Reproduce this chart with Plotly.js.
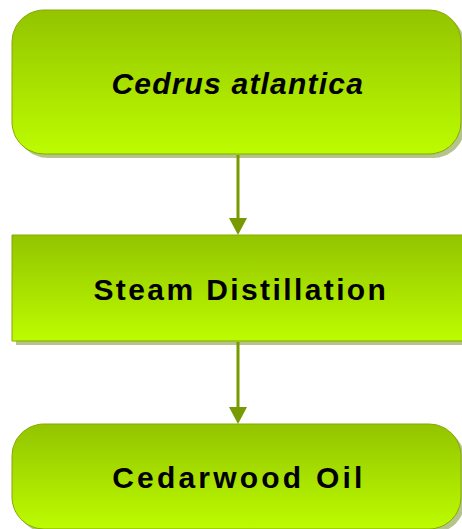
<!DOCTYPE html>
<html>
<head>
<meta charset="utf-8">
<script src="https://cdn.plot.ly/plotly-3.0.1.min.js"></script>
<style>
html,body{margin:0;padding:0;background:#fff;}
#chart{width:462px;height:529px;}
</style>
</head>
<body>
<div id="chart"></div>
<script>
// ---- flowchart content ----
const steps = ["Cedrus atlantica", "Steam Distillation", "Cedarwood Oil"];
const stepShapes = ["rounded", "rect", "rounded"];
const stepItalic = [true, false, false];
// links between steps (from index -> to index)
const linkFrom = [0, 1];
const linkTo = [1, 2];

// ---- layout constants (pixel space) ----
const W = 462, H = 529;
const boxLeft = 12;
const boxRightRounded = 461;
const boxRightRect = 475;
const boxTops = [10, 235, 424];
const boxBottoms = [154, 341, 529];
const textSpacing = [1.2, 2.4, 3.2];
const textShiftX = [1, 4, 2];
const fontSize = 30;
const radius = 32;
const arrowX = 238;
const topColor = "#93c400";
const bottomColor = "#bcfc00";
const borderColor = "#86a800";
const shadowColor = "rgba(88,125,0,0.45)";
const arrowColor = "#779a00";

function boxPath(x0, y0, x1, y1, r) {
  const xs = [], ys = [];
  if (r <= 0) {
    return {x: [x0, x1, x1, x0, x0], y: [y0, y0, y1, y1, y0]};
  }
  const N = 16;
  const corners = [
    [x1 - r, y0 + r, -Math.PI / 2, 0],
    [x1 - r, y1 - r, 0, Math.PI / 2],
    [x0 + r, y1 - r, Math.PI / 2, Math.PI],
    [x0 + r, y0 + r, Math.PI, 1.5 * Math.PI]
  ];
  corners.forEach(c => {
    for (let i = 0; i <= N; i++) {
      const a = c[2] + (c[3] - c[2]) * i / N;
      xs.push(c[0] + r * Math.cos(a));
      ys.push(c[1] + r * Math.sin(a));
    }
  });
  xs.push(xs[0]); ys.push(ys[0]);
  return {x: xs, y: ys};
}

const traces = [];
const annotations = [];

steps.forEach((label, i) => {
  const x0 = boxLeft;
  const x1 = stepShapes[i] === "rounded" ? boxRightRounded : boxRightRect;
  const y0 = boxTops[i], y1 = boxBottoms[i];
  const r = stepShapes[i] === "rounded" ? radius : 0;
  const sh = boxPath(x0 + 4, y0 + 4, x1 + 4, y1 + 4, r);
  traces.push({
    type: "scatter", mode: "lines", x: sh.x, y: sh.y,
    fill: "toself", fillcolor: shadowColor,
    line: {width: 0, color: shadowColor}, hoverinfo: "skip", showlegend: false
  });
  const p = boxPath(x0, y0, x1, y1, r);
  traces.push({
    type: "scatter", mode: "lines", x: p.x, y: p.y,
    fill: "toself",
    fillgradient: {type: "vertical", start: y0, stop: y1,
      colorscale: [[0, topColor], [1, bottomColor]]},
    line: {width: 1, color: borderColor}, hoverinfo: "skip", showlegend: false
  });
  const txt = stepItalic[i] ? "<b><i>" + label + "</i></b>" : "<b>" + label + "</b>";
  annotations.push({
    x: (x0 + boxRightRounded) / 2 + textShiftX[i], y: (y0 + y1) / 2 + 1,
    xref: "x", yref: "y", text: txt, showarrow: false,
    xanchor: "center", yanchor: "middle",
    font: {family: "Liberation Sans, Arial, sans-serif", size: fontSize, color: "#000"}
  });
});

const shapes = [];
linkFrom.forEach((f, k) => {
  const t = linkTo[k];
  const yStart = boxBottoms[f] + 1;
  const yTip = boxTops[t];
  const headLen = 17, headHalf = 9;
  shapes.push({type: "line", xref: "x", yref: "y",
    x0: arrowX, x1: arrowX, y0: yStart, y1: yTip - headLen + 2,
    line: {color: arrowColor, width: 3}});
  shapes.push({type: "path", xref: "x", yref: "y",
    path: "M " + (arrowX - headHalf) + " " + (yTip - headLen) +
          " L " + (arrowX + headHalf) + " " + (yTip - headLen) +
          " L " + arrowX + " " + yTip + " Z",
    fillcolor: arrowColor, line: {width: 0}});
});

const layout = {
  width: W, height: H,
  margin: {l: 0, r: 0, t: 0, b: 0},
  paper_bgcolor: "#fff", plot_bgcolor: "#fff",
  xaxis: {range: [0, W], visible: false, fixedrange: true},
  yaxis: {range: [H, 0], visible: false, fixedrange: true},
  shapes: shapes,
  annotations: annotations,
  showlegend: false
};

Plotly.newPlot("chart", traces, layout, {displayModeBar: false, staticPlot: true}).then(gd => {
  const texts = gd.querySelectorAll(".annotation-text");
  texts.forEach((el, i) => {
    el.style.letterSpacing = textSpacing[i] + "px";
  });
});
</script>
</body>
</html>
